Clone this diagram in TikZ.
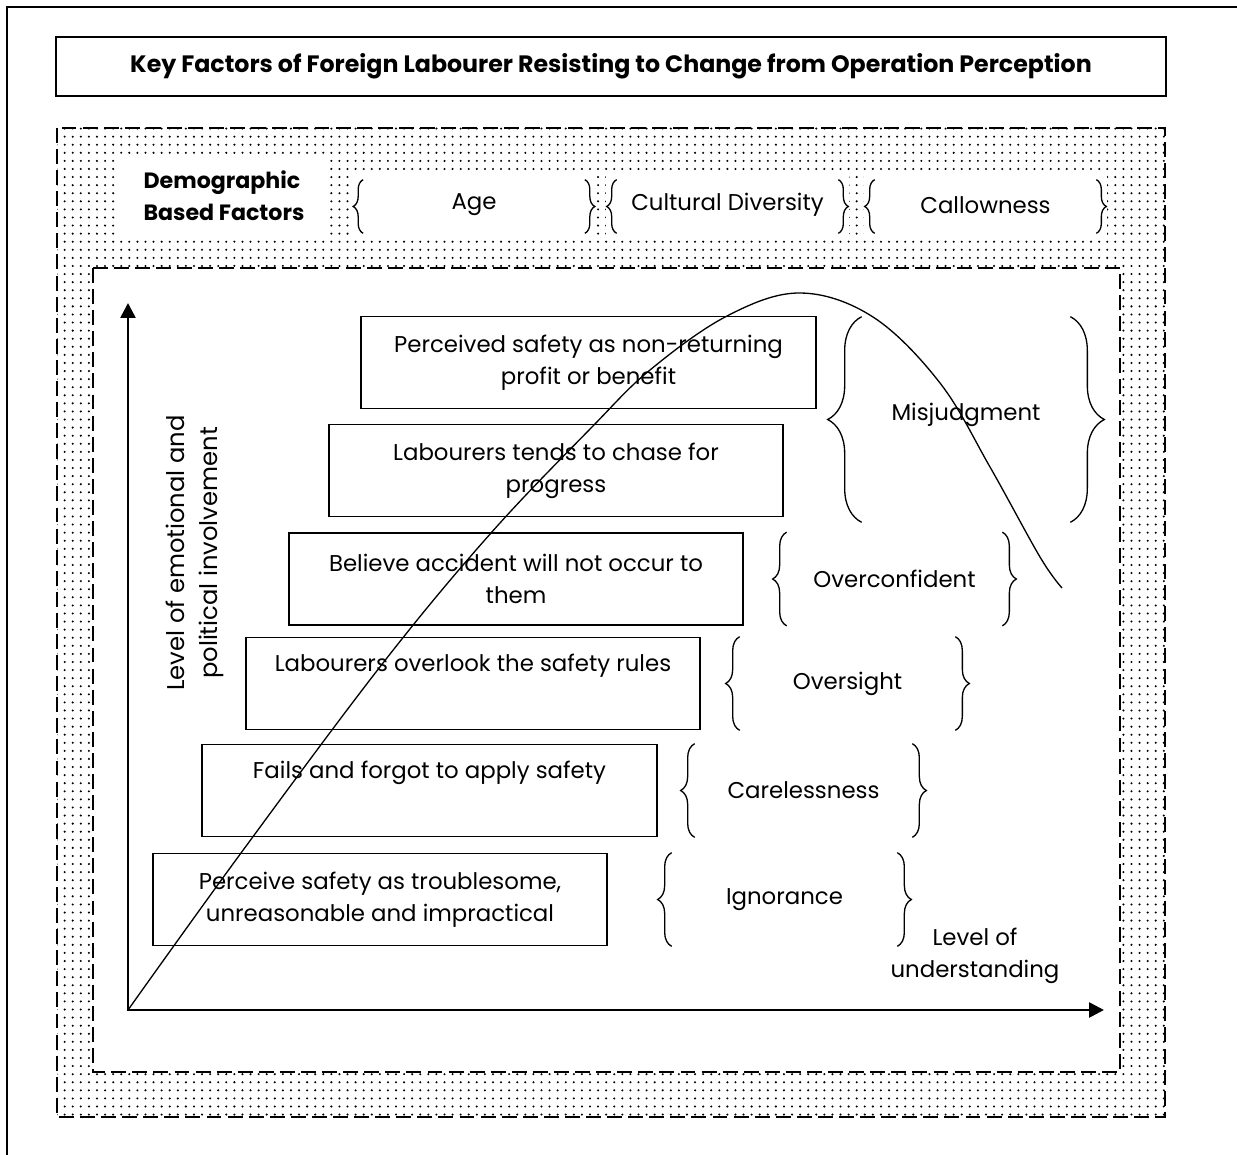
\documentclass[tikz,border=0pt]{standalone}
\usepackage{fontspec}
\setmainfont{Poppins}
\usetikzlibrary{arrows.meta,decorations.pathreplacing,patterns.meta,positioning}
\newcommand{\bodyfont}{\fontsize{13}{18.2}\selectfont}
\newcommand{\headfont}{\fontsize{13.5}{18.2}\selectfont}

\begin{document}
\begin{tikzpicture}[
  x=0.02cm, y=-0.02cm,
  title/.style={rectangle, draw, line width=1.1pt, minimum width=22.2cm, minimum height=1.18cm, font=\bfseries\headfont},
  demo/.style={rectangle, fill=white, minimum width=4.24cm, minimum height=1.62cm, align=left, font=\bfseries\fontsize{12.6}{18.2}\selectfont},
  item/.style={rectangle, fill=white, minimum width=4.86cm, minimum height=1.32cm, font=\bodyfont},
  factor/.style={rectangle, draw, line width=1.1pt, minimum width=9.1cm, minimum height=1.84cm, align=center, font=\bodyfont},
  trait/.style={rectangle, minimum height=1.86cm, font=\bodyfont},
  curly/.style={decorate, decoration={brace, amplitude=#1}, line width=0.75pt},
  curly/.default=0.28cm,
  frame/.style={line width=1.3pt, dash pattern=on 8.5pt off 3.5pt},
  axis/.style={line width=1.5pt, {Triangle[length=8.5pt,width=8.5pt]}-{Triangle[length=8.5pt,width=8.5pt]}}
]
\useasboundingbox (0,0) rectangle (1237,1155);

% page edge
\draw[line width=1.2pt] (7,1155) -- (7,7) -- (1237,7);

\node[title] (title) at (611,66.5) {Key Factors of Foreign Labourer Resisting to Change from Operation Perception};

% dotted frame and inner white frame
\draw[frame, pattern={Dots[distance=4.6pt,radius=0.65pt]}] (57,128) rectangle (1165,1117);
\draw[frame, fill=white] (93,268) rectangle (1120,1072);

% demographic row
\node[demo] (demo) at (224,195.5) {Demographic\\Based Factors};
\node[item] (age) at (474,205) {Age};
\node[item] (culture) at (727.5,205) {Cultural Diversity};
\node[item] (callow) at (985.5,205) {Callowness};
\foreach \n in {age,culture,callow} {
  \draw[curly=0.2cm] ([xshift=0.22cm,yshift=0.1cm]\n.south west) -- ([xshift=0.22cm,yshift=-0.16cm]\n.north west);
  \draw[curly=0.2cm] ([xshift=-0.22cm,yshift=-0.16cm]\n.north east) -- ([xshift=-0.22cm,yshift=0.1cm]\n.south east);
}

% axes
\coordinate (origin) at (128,1010);
\coordinate (ytop) at (128,303);
\coordinate (xend) at (1104,1010);
\draw[axis] (ytop) -- (origin) -- (xend);
\node[rotate=90, align=center, font=\fontsize{13.8}{19}\selectfont] (ylabel) at (195,553) {Level of emotional and\\political involvement};
\node[align=center, font=\bodyfont] (xlabel) at (975,955.5) {Level of\\understanding};

% factor boxes
\node[factor] (f1) at (588.5,362.5) {Perceived safety as non-returning\\profit or benefit};
\node[factor] (f2) at (556,470.5) {Labourers tends to chase for\\progress};
\node[factor] (f3) at (516,579) {Believe accident will not occur to\\them};
\node[factor] (f4) at (473,683.5) {Labourers overlook the safety rules\\\strut};
\node[factor] (f5) at (429.5,790.5) {Fails and forgot to apply safety\\\strut};
\node[factor] (f6) at (380,899.5) {Perceive safety as troublesome,\\unreasonable and impractical};

% braced traits
\node[trait, minimum width=4.16cm, minimum height=4.1cm, text depth=0.3cm] (misjudg) at (966,419.5) {Misjudgment};
\node[trait, minimum width=4.3cm] (overconf) at (894.5,579) {Overconfident};
\node[trait, minimum width=4.3cm] (oversight) at (847.5,683.5) {Oversight};
\node[trait, minimum width=4.34cm] (careless) at (803.5,790.5) {Carelessness};
\node[trait, minimum width=4.5cm] (ignorance) at (784.5,899.5) {Ignorance};
\draw[curly=0.68cm] (misjudg.south west) -- (misjudg.north west);
\draw[curly=0.68cm] (misjudg.north east) -- (misjudg.south east);
\foreach \n in {overconf,oversight,careless,ignorance} {
  \draw[curly] (\n.south west) -- (\n.north west);
  \draw[curly] (\n.north east) -- (\n.south east);
}

% involvement curve
\draw[line width=0.75pt] plot[smooth, tension=0.6] coordinates {(origin) (241,853) (383,663) (491,533) (592,427) (650,370) (727,316) (800,293) (873,317) (940,383) (990,467) (1040,557) (1062,588)};
\end{tikzpicture}
\end{document}
